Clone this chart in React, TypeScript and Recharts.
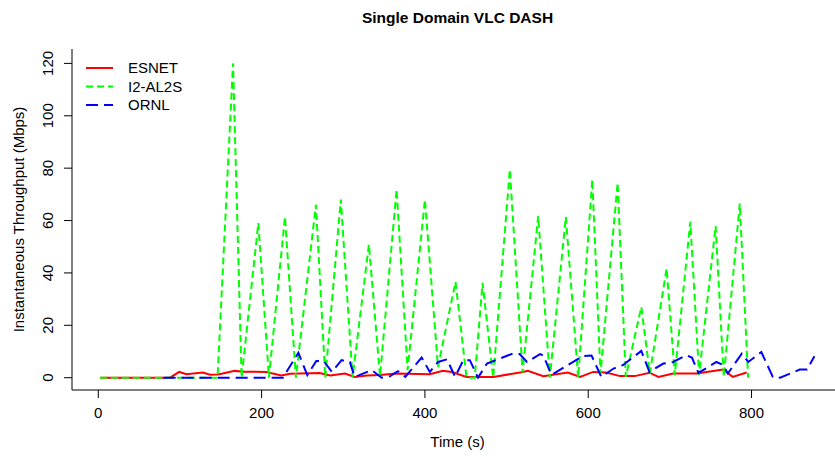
import { Customized, Line, LineChart, XAxis, YAxis } from 'recharts';

// time (s) / throughput (Mbps)
const esnetTime = [
  2, 88, 99, 108, 128, 137, 147, 167, 178, 206, 224, 235, 271, 284, 302, 314, 329, 345, 365,
  406, 422, 433, 451, 484, 520, 526, 545, 575, 590, 606, 622, 639, 657, 675, 686, 704, 733, 765,
  777, 794,
];
const esnetMbps = [
  0, 0, 2.2, 1.3, 2.0, 1.1, 1.2, 2.6, 2.3, 2.2, 0.8, 1.5, 1.8, 0.8, 1.6, 0.3, 0.8, 1.0, 1.6,
  1.3, 2.6, 2.2, 0.3, 0.3, 2.2, 2.6, 0.6, 2.0, 0.3, 2.2, 2.0, 0.6, 0.6, 1.9, 0.3, 1.6, 1.6, 3.1,
  0.3, 2.0,
];

const al2sTime = [
  2, 146, 165, 175.5, 196, 209, 228.6, 242, 266.5, 278, 297, 311.4, 331.4, 345, 365.3, 378.8,
  400, 416, 437.5, 451, 461, 470.6, 483.6, 504, 519.6, 538.7, 553, 572.6, 587.7, 605, 615, 636,
  646, 665, 675.4, 696, 706, 725, 735.8, 756, 766, 785.6, 795.8,
];
const al2sMbps = [
  0, 0, 120, 0, 59, 0, 61.4, 0, 66, 0, 68, 0, 50.9, 0.5, 71.9, 2.9, 68, 4.1, 36.6, 0, 0, 36.2, 0,
  79.5, 2, 61.7, 0, 61.4, 0, 75.7, 1.6, 74.4, 0.3, 27, 1.6, 41.7, 1, 59.5, 1, 57.9, 0.3, 66.5, 0,
];

const ornlTime = [
  80, 226, 245, 256, 267, 276, 286, 298, 308, 314, 335, 347, 357, 367, 376, 396, 406, 416, 427,
  437, 447, 455, 465, 476, 506, 516, 525, 541, 545, 555, 578, 594, 604, 616, 631, 643, 665, 675,
  692, 704, 720, 727, 735, 757, 765, 771, 788, 796, 812, 826, 835, 859, 868, 877,
];
const ornlMbps = [
  0, 0, 9.5, 1, 6.4, 6.4, 2.2, 6.7, 6, 0.3, 2.9, 0, 0.5, 2.5, 0.3, 7.7, 2.2, 6, 7, 0.3, 6.7, 6.7,
  0, 5.4, 9, 9, 6, 9, 8.5, 1, 5.4, 8.3, 8.5, 0.3, 3.5, 4.9, 10.2, 2.2, 5.4, 6, 8.6, 7.7, 1.8, 6,
  4.9, 1.6, 9.2, 6, 9.8, 0.3, 0, 3.1, 3.1, 8.2,
];

const xTicks = [0, 200, 400, 600, 800];
const yTicks = [0, 20, 40, 60, 80, 100, 120];

const FONT = '"Liberation Sans", Arial, Helvetica, sans-serif';
const INK = '#000';

const zip = (ts: number[], vs: number[]) => ts.map((t, i) => ({ t, v: vs[i] }));

const series = [
  { name: 'ESNET', data: zip(esnetTime, esnetMbps), color: '#FF0000', dash: undefined },
  { name: 'I2-AL2S', data: zip(al2sTime, al2sMbps), color: '#00FF00', dash: '7 4' },
  { name: 'ORNL', data: zip(ornlTime, ornlMbps), color: '#0000FF', dash: '12 6' },
];

function XTick({ x, y, payload }: any) {
  return (
    <text x={x} y={y + 16} textAnchor="middle" fontFamily={FONT} fontSize={15} fill={INK}>
      {payload.value}
    </text>
  );
}

function YTick({ x, y, payload }: any) {
  const bx = x - 6.5;
  return (
    <text
      x={bx}
      y={y}
      transform={`rotate(-90, ${bx}, ${y})`}
      textAnchor="middle"
      fontFamily={FONT}
      fontSize={15}
      fill={INK}
    >
      {payload.value}
    </text>
  );
}

function Titles() {
  return (
    <g fontFamily={FONT} fill={INK}>
      <text x={457.5} y={23} textAnchor="middle" fontSize={15.5} fontWeight="bold">
        Single Domain VLC DASH
      </text>
      <text x={457.5} y={447} textAnchor="middle" fontSize={15}>
        Time (s)
      </text>
      <text
        x={23.5}
        y={219.5}
        transform="rotate(-90, 23.5, 219.5)"
        textAnchor="middle"
        fontSize={15}
      >
        Instantaneous Throughput (Mbps)
      </text>
    </g>
  );
}

function LegendBox() {
  return (
    <g fontFamily={FONT} fontSize={15} fill={INK}>
      {series.map((s, i) => {
        const y = 68 + i * 18.5;
        return (
          <g key={s.name}>
            <line
              x1={86}
              x2={113}
              y1={y}
              y2={y}
              stroke={s.color}
              strokeWidth={2}
              strokeDasharray={s.dash}
            />
            <text x={128} y={y + 5.3}>
              {s.name}
            </text>
          </g>
        );
      })}
    </g>
  );
}

export default function App() {
  return (
    <div
      style={{
        position: 'fixed',
        left: 0,
        top: 0,
        width: 835,
        height: 457,
        overflow: 'hidden',
        background: '#fff',
      }}
    >
      <LineChart width={860} height={457} margin={{ top: 49, right: 17, bottom: 0, left: 0 }}>
        <XAxis
          xAxisId="bottom"
          dataKey="t"
          type="number"
          domain={[-32.2, 912]}
          ticks={xTicks}
          allowDataOverflow
          height={67}
          tickSize={8}
          tickMargin={4}
          tick={<XTick />}
          axisLine={{ stroke: INK }}
          tickLine={{ stroke: INK }}
        />
        <XAxis
          xAxisId="top"
          orientation="top"
          dataKey="t"
          type="number"
          domain={[-32.2, 912]}
          allowDataOverflow
          height={0}
          tick={false}
          tickLine={false}
          axisLine={{ stroke: INK }}
        />
        <YAxis
          yAxisId="left"
          type="number"
          domain={[-4.7, 125.5]}
          ticks={yTicks}
          allowDataOverflow
          width={72}
          tickSize={8}
          tickMargin={4}
          tick={<YTick />}
          axisLine={{ stroke: INK }}
          tickLine={{ stroke: INK }}
        />
        {series.map((s) => (
          <Line
            key={s.name}
            xAxisId="bottom"
            yAxisId="left"
            data={s.data}
            dataKey="v"
            name={s.name}
            type="linear"
            stroke={s.color}
            strokeWidth={2}
            strokeDasharray={s.dash}
            dot={false}
            activeDot={false}
            isAnimationActive={false}
          />
        ))}
        <Customized component={<Titles />} />
        <Customized component={<LegendBox />} />
      </LineChart>
    </div>
  );
}
